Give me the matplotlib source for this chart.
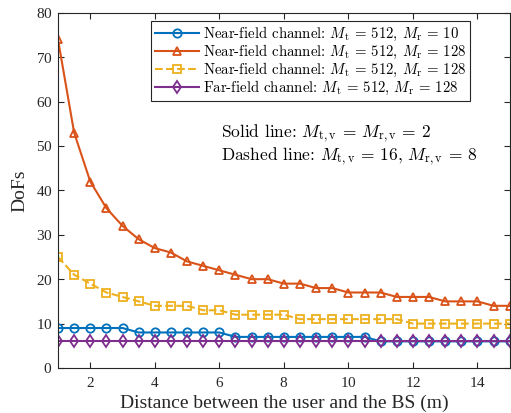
import numpy as np
import matplotlib.pyplot as plt

plt.rcParams['font.family'] = ['Liberation Serif', 'DejaVu Serif']
plt.rcParams['mathtext.fontset'] = 'cm'
plt.rcParams['axes.formatter.use_mathtext'] = True

# distance between user and BS (m)
distance = np.arange(1, 15.01, 0.5)

# DoFs for each channel setting
dofs_near_10 = [9, 9, 9, 9, 9, 8, 8, 8, 8, 8, 8, 7, 7, 7, 7, 7, 7, 7, 7, 7,
                6, 6, 6, 6, 6, 6, 6, 6, 6]
dofs_near_128 = [74, 53, 42, 36, 32, 29, 27, 26, 24, 23, 22, 21, 20, 20, 19,
                 19, 18, 18, 17, 17, 17, 16, 16, 16, 15, 15, 15, 14, 14]
dofs_near_128_dash = [25, 21, 19, 17, 16, 15, 14, 14, 14, 13, 13, 12, 12, 12,
                      12, 11, 11, 11, 11, 11, 11, 11, 10, 10, 10, 10, 10, 10, 10]
dofs_far_128 = [6] * 29

labels = [
    r'Near-field channel: $M_\mathrm{t}$ = 512, $M_\mathrm{r}$ = 10',
    r'Near-field channel: $M_\mathrm{t}$ = 512, $M_\mathrm{r}$ = 128',
    r'Near-field channel: $M_\mathrm{t}$ = 512, $M_\mathrm{r}$ = 128',
    r'Far-field channel: $M_\mathrm{t}$ = 512, $M_\mathrm{r}$ = 128',
]
note = (r'Solid line: $M_{\mathrm{t,v}}$ = $M_{\mathrm{r,v}}$ = 2' '\n'
        r'Dashed line: $M_{\mathrm{t,v}}$ = 16, $M_{\mathrm{r,v}}$ = 8')

fig = plt.figure(figsize=(5.11, 4.13), dpi=100)
ax = fig.add_axes([0.1135, 0.109, 0.884, 0.860])

kw = dict(lw=1.5, ms=6, mew=1.3, mfc='none')
ax.plot(distance, dofs_near_10, '-o', color='#0072BD', label=labels[0], **kw)
ax.plot(distance, dofs_near_128, '-^', color='#D95319', label=labels[1], **kw)
ax.plot(distance, dofs_near_128_dash, '--s', color='#EDB120', label=labels[2], **kw)
ax.plot(distance, dofs_far_128, '-d', color='#7E2F8E', label=labels[3], **kw)

ax.set_xlim(1, 15)
ax.set_ylim(0, 80)
ax.set_xticks([2, 4, 6, 8, 10, 12, 14])
ax.set_yticks(np.arange(0, 81, 10))
for s in ax.spines.values():
    s.set_color('#262626')
ax.tick_params(direction='in', top=True, right=True, labelsize=11, length=4,
               color='#262626', labelcolor='#262626')
ax.tick_params(axis='x', pad=6)
ax.tick_params(axis='y', pad=4)
ax.set_xlabel('Distance between the user and the BS (m)', fontsize=14, labelpad=3,
              color='#262626')
ax.set_ylabel('DoFs', fontsize=14, labelpad=5, color='#262626')

leg = ax.legend(loc='upper right', bbox_to_anchor=(470 / 511, (413 - 21) / 413),
                bbox_transform=fig.transFigure, borderaxespad=0,
                fancybox=False, edgecolor='#262626', framealpha=1,
                handlelength=3.0, handletextpad=0.25, borderpad=0.25,
                labelspacing=0.0, prop={'family': 'cmr10', 'size': 10.7})
leg.get_frame().set_linewidth(0.8)

ax.text(0.36, 0.628, note, transform=ax.transAxes, family='cmr10',
        fontsize=12.5, va='center', linespacing=1.05)

fig.savefig('out.png', dpi=100)
